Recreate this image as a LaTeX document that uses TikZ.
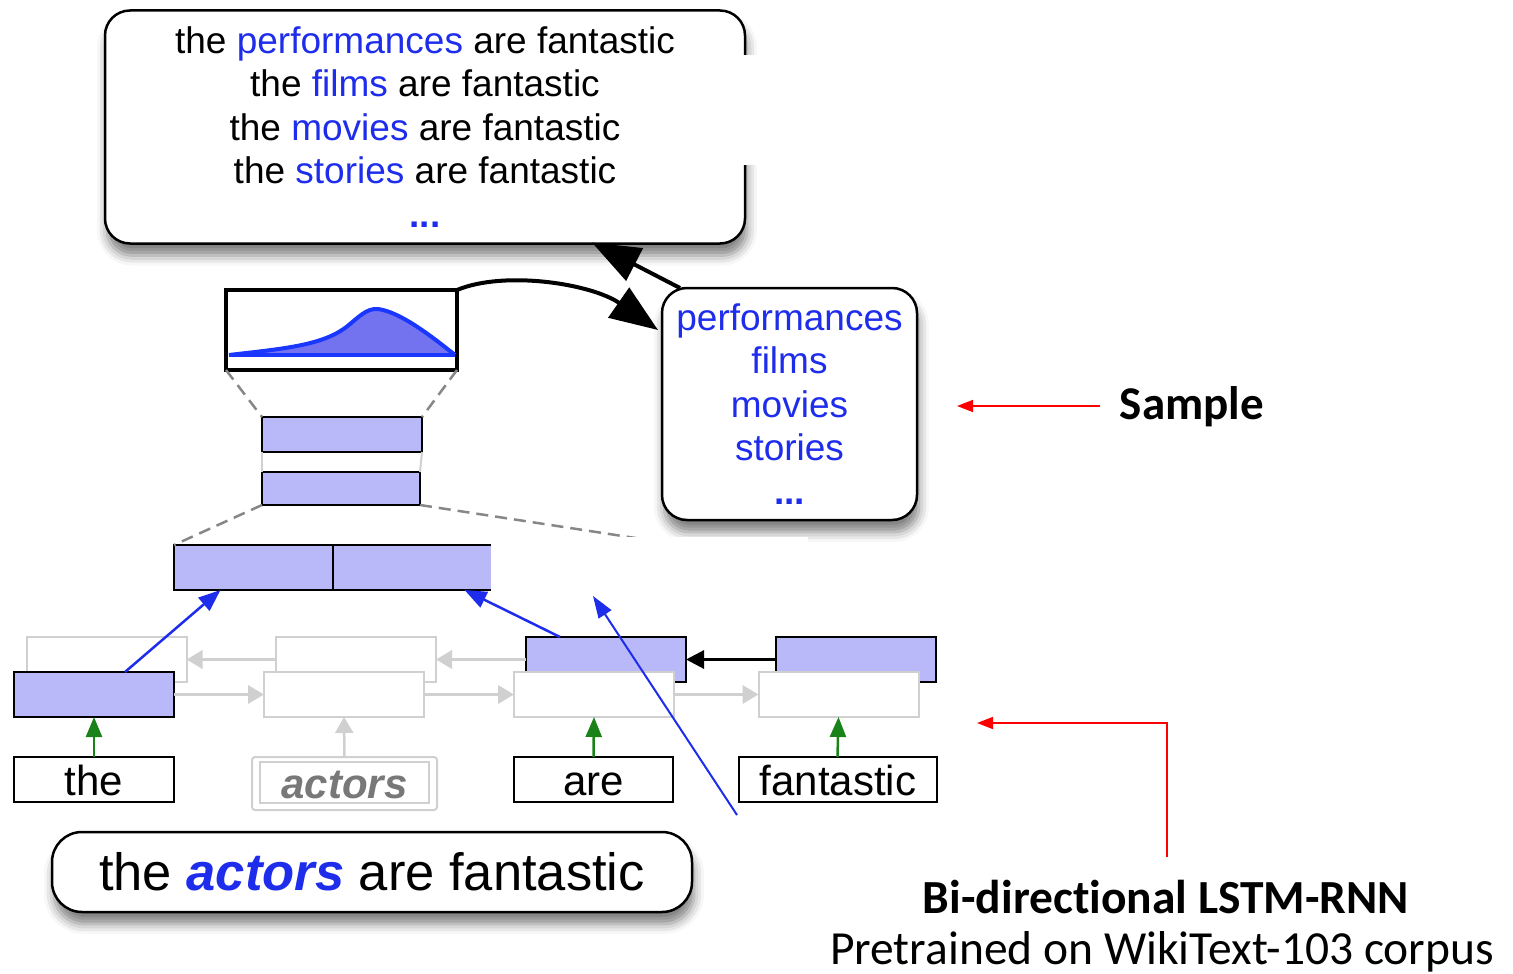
\documentclass[tikz,border=0pt]{standalone}
\usepackage{fontspec}
\setmainfont{Liberation Sans}
\newfontfamily\calfont[Ligatures=NoCommon]{Carlito}
\usetikzlibrary{arrows.meta,shadows.blur}
\definecolor{tblue}{RGB}{30,45,235}
\definecolor{cellblue}{RGB}{185,185,250}
\definecolor{distfill}{RGB}{115,115,240}
\definecolor{distline}{RGB}{25,55,255}
\definecolor{lgray}{RGB}{208,208,208}
\definecolor{dgreen}{RGB}{25,130,25}
\definecolor{dashgray}{RGB}{135,135,135}
\definecolor{agray}{RGB}{120,120,120}
\begin{document}
\begin{tikzpicture}[x=1pt,y=-1pt,
  bubble/.style={draw=black, line width=2.5pt, rounded corners=25pt, fill=white, align=center,
    inner sep=0pt, outer sep=0pt,
    blur shadow={shadow xshift=2pt, shadow yshift=-12pt, shadow blur radius=10pt, shadow opacity=50}},
  cell/.style={minimum width=160pt, minimum height=45pt, inner sep=0pt, outer sep=0pt},
  cellon/.style={cell, draw=black, line width=2.5pt, fill=cellblue},
  celloff/.style={cell, draw=lgray, line width=2pt, fill=white},
  word/.style={draw=black, line width=2.5pt, fill=white, minimum height=45pt, inner sep=0pt, outer sep=0pt,
    text height=31pt, text depth=0pt, font=\fontsize{42}{42}\selectfont},
  grayarrow/.style={draw=lgray, line width=3.5pt, -{Triangle[length=16pt,width=18pt]}},
  greenarrow/.style={draw=dgreen, line width=2.5pt, -{Triangle[length=20pt,width=16pt]}},
  bluearrow/.style={draw=tblue, line width=2.5pt, -{Triangle[length=22pt,width=17pt]}},
  bigarrow/.style={draw=black, line width=4pt, -{Triangle[length=48pt,width=36pt]}},
  redarrow/.style={draw=red, line width=1.6pt, -{Triangle[length=16pt,width=12pt]}},
  zoomline/.style={draw=dashgray, line width=2.5pt, dash pattern=on 12pt off 7pt},
  lbl/.style={font=\calfont\fontsize{47.5}{47.5}\selectfont, inner sep=0pt}
]
\useasboundingbox (0,0) rectangle (1513,974);

% ---------- top bubble ----------
\node[bubble, minimum width=640pt, minimum height=233pt,
      font=\fontsize{37}{43.5}\selectfont] (top) at (425,127)
 {the {\color{tblue}performances} are fantastic\\
  the {\color{tblue}films} are fantastic\\
  the {\color{tblue}movies} are fantastic\\
  the {\color{tblue}stories} are fantastic\\
  {\color{tblue}\bfseries ...}};

% ---------- sampled words bubble ----------
\node[bubble, minimum width=255pt, minimum height=232pt,
      font=\fontsize{37}{43.5}\selectfont, text=tblue] (samp) at (789.5,404)
 {performances\\ films\\ movies\\ stories\\ \textbf{...}};

% ---------- distribution ----------
\node[draw=black, line width=4.5pt, minimum width=231pt, minimum height=80pt, inner sep=0pt, outer sep=0pt] (dist) at (341.5,330) {};
\fill[distfill] (229,355) .. controls (280,349) and (320,346) .. (345,328)
   .. controls (358,318) and (366,308) .. (378,309)
   .. controls (400,312) and (430,335) .. (455,355) -- cycle;
\draw[distline, line width=4pt] (229,355) .. controls (280,349) and (320,346) .. (345,328)
   .. controls (358,318) and (366,308) .. (378,309)
   .. controls (400,312) and (430,335) .. (455,355);
\draw[distline, line width=4pt] (229,355) -- (455,355);

% ---------- hidden layers ----------
\node[cellon, minimum width=160pt, minimum height=35pt] (h1) at (342,434.5) {};
\node[cellon, minimum width=158pt, minimum height=33pt] (h2) at (341,488.5) {};
\draw[zoomline] (dist.south west) -- (h1.north west);
\draw[zoomline] (dist.south east) -- (h1.north east);
\draw[lgray, line width=2pt] (h1.south west) -- (h2.north west);
\draw[lgray, line width=2pt] (h1.south east) -- (h2.north east);

% ---------- concatenation ----------
\node[cellon, minimum width=159pt] (c1) at (253.5,567.5) {};
\node[cellon, minimum width=159pt] (c2) at (412.5,567.5) {};
\coordinate (cfar) at (655,541);
\draw[zoomline] (h2.south west) -- (c1.north west);
\draw[zoomline] (h2.south east) -- (cfar);

% ---------- big arrows ----------
\draw[bigarrow] (dist.north east) .. controls (505,270) and (592,284) .. ([xshift=-4pt,yshift=-42pt]samp.north west);
\draw[bigarrow] ([xshift=18pt]samp.north west) -- ([xshift=167pt,yshift=1pt]top.south);

% ---------- LSTM cells ----------
\node[celloff] (b1) at (106.5,659.5) {};
\node[celloff] (b2) at (356,659.5) {};
\node[cellon]  (b3) at (606,659.5) {};
\node[cellon]  (b4) at (856,659.5) {};
\node[cellon]  (f1) at (94,694.5) {};
\node[celloff] (f2) at (344,694.5) {};
\node[celloff] (f3) at (594,694.5) {};
\node[celloff] (f4) at (838.5,694.5) {};

\draw[grayarrow] (b2.west) -- (b1.east);
\draw[grayarrow] (b3.west) -- (b2.east);
\draw[draw=black, line width=3pt, -{Triangle[length=18pt,width=18pt]}] (b4.west) -- (b3.east);
\draw[grayarrow] (f1.east) -- (f2.west);
\draw[grayarrow] (f2.east) -- (f3.west);
\draw[grayarrow] (f3.east) -- (f4.west);

% ---------- words ----------
\node[word, minimum width=160pt] (w1) at (94,779.5) {the};
\node[draw=lgray, line width=2pt, rounded corners=3pt, fill=white, minimum width=185pt, minimum height=53pt,
      inner sep=0pt, outer sep=0pt] (w2) at (344.5,783.5) {};
\node[draw=lgray, line width=2pt, minimum width=169pt, minimum height=41pt, inner sep=0pt,
      text height=31pt, text depth=0pt,
      font=\fontsize{42}{42}\selectfont\bfseries\itshape, text=agray] (w2in) at (344.5,782.5) {actors};
\node[word, minimum width=159pt] (w3) at (593.5,779.5) {are};
\node[word, minimum width=198pt] (w4) at (838,779.5) {fantastic};

\draw[greenarrow] (w1.north) -- (f1.south);
\draw[grayarrow, line width=2.5pt] (w2.north) -- (f2.south);
\draw[greenarrow] (w3.north) -- (f3.south);
\draw[greenarrow] ([xshift=-0.5pt]w4.north) -- (f4.south);

% ---------- blue arrows into concat ----------
\draw[bluearrow] ([xshift=31pt]f1.north) -- ([xshift=-33pt]c1.south);
\draw[bluearrow] ([xshift=-46pt]b3.north) -- ([xshift=52pt]c2.south);
\coordinate (lowend) at (737,815);
\coordinate (highend) at (593,596);
\draw[tblue, line width=2pt, -{Triangle[length=22pt,width=15pt]}] (lowend) -- (highend);

% ---------- patches hiding parts (as in the reference) ----------
\fill[white] (491,537) rectangle (808,592);
\fill[white] (743,55) rectangle (792,165);

% ---------- input sentence ----------
\node[bubble, rounded corners=30pt, minimum width=640pt, minimum height=80pt,
      font=\fontsize{52.5}{52.5}\selectfont] (sent) at (372,872)
 {the {\color{tblue}\bfseries\itshape actors} are fantastic};

% ---------- annotations ----------
\node[lbl, font=\calfont\bfseries\fontsize{47}{47}\selectfont] (samplbl) at (1192,407) {Sample};
\coordinate (sampfrom) at (1100,406);
\coordinate (sampto) at (957,406);
\draw[redarrow] (sampfrom) -- (sampto);

\node[lbl, anchor=base, font=\calfont\bfseries\fontsize{47.5}{47.5}\selectfont] (bilbl) at (1166,913) {Bi-directional LSTM-RNN};
\node[lbl, anchor=base] (prelbl) at (1162,964) {Pretrained on WikiText-103 corpus};
\coordinate (lstmfrom) at (1167,857);
\coordinate (lstmto) at (977,723);
\draw[redarrow] (lstmfrom) |- (lstmto);
\end{tikzpicture}
\end{document}
